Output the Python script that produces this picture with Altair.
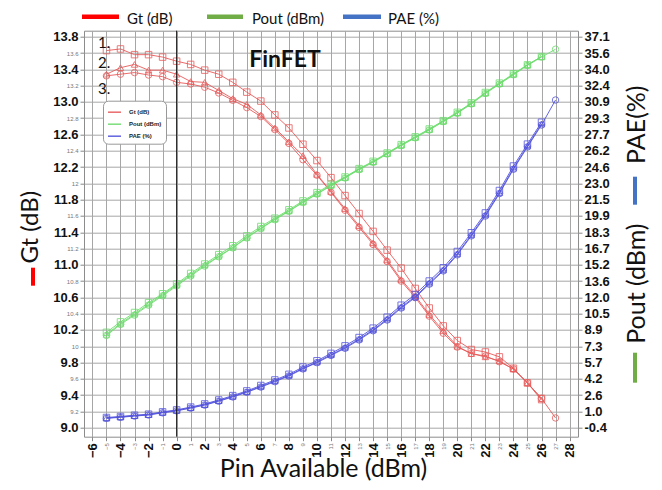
import altair as alt
import pandas as pd

# ---------------- data ----------------
pin = list(range(-5, 28))  # Pin Available (dBm): -5 .. 27

gt_1 = [13.63, 13.65, 13.58, 13.58, 13.55, 13.50, 13.46, 13.39, 13.34, 13.24, 13.12,
        13.01, 12.84, 12.68, 12.48, 12.28, 12.07, 11.85, 11.63, 11.41, 11.18, 10.96,
        10.71, 10.47, 10.25, 10.07, 9.96, 9.93, 9.87, 9.73, 9.55, 9.36]
gt_2 = [13.34, 13.42, 13.46, 13.39, 13.39, 13.34, 13.25, 13.24, 13.14, 13.04, 12.97,
        12.84, 12.68, 12.51, 12.34, 12.11, 11.90, 11.69, 11.48, 11.27, 11.06, 10.82,
        10.62, 10.39, 10.19, 10.00, 9.91, 9.87, 9.82, 9.72, 9.55, 9.34]
gt_3 = [13.32, 13.34, 13.36, 13.33, 13.31, 13.24, 13.22, 13.18, 13.11, 13.02, 12.93,
        12.82, 12.66, 12.49, 12.29, 12.10, 11.89, 11.67, 11.46, 11.25, 11.04, 10.80,
        10.60, 10.37, 10.16, 9.99, 9.91, 9.88, 9.81, 9.72, 9.55, 9.36, 9.12]

pout_1 = [8.75, 9.75, 10.65, 11.6, 12.45, 13.4, 14.4, 15.3, 16.2, 17.05, 18.0, 18.9,
          19.7, 20.5, 21.35, 22.15, 22.95, 23.65, 24.45, 25.15, 25.95, 26.75, 27.5,
          28.25, 29.05, 29.85, 30.75, 31.75, 32.65, 33.55, 34.4, 35.2]
pout_2 = [8.55, 9.6, 10.5, 11.45, 12.35, 13.3, 14.25, 15.2, 16.05, 16.9, 17.85, 18.75,
          19.6, 20.4, 21.25, 22.05, 22.85, 23.6, 24.4, 25.1, 25.9, 26.7, 27.45, 28.2,
          29.0, 29.8, 30.7, 31.7, 32.6, 33.5, 34.4, 35.2]
pout_3 = [8.45, 9.5, 10.4, 11.35, 12.25, 13.2, 14.15, 15.1, 16.0, 16.85, 17.8, 18.7,
          19.55, 20.35, 21.2, 22.0, 22.8, 23.55, 24.35, 25.05, 25.85, 26.65, 27.4,
          28.15, 28.95, 29.75, 30.65, 31.65, 32.55, 33.45, 34.35, 35.15, 35.9]

pae_1 = [0.58, 0.68, 0.8, 0.9, 1.12, 1.31, 1.58, 1.88, 2.26, 2.68, 3.13, 3.65, 4.18,
         4.72, 5.42, 6.02, 6.73, 7.45, 8.25, 9.15, 10.2, 11.35, 12.38, 13.67, 14.94,
         16.5, 18.3, 20.2, 22.35, 24.7, 26.8, 28.9]
pae_2 = [0.53, 0.63, 0.75, 0.85, 1.07, 1.26, 1.52, 1.81, 2.19, 2.60, 3.05, 3.56, 4.08,
         4.62, 5.30, 5.90, 6.60, 7.30, 8.10, 8.99, 10.02, 11.17, 12.18, 13.47, 14.74,
         16.28, 18.1, 20.01, 22.15, 24.49, 26.63, 28.73]
pae_3 = [0.5, 0.6, 0.72, 0.82, 1.03, 1.22, 1.48, 1.77, 2.14, 2.55, 3.0, 3.5, 4.02, 4.56,
         5.24, 5.84, 6.53, 7.22, 8.02, 8.9, 9.93, 11.08, 12.08, 13.37, 14.64, 16.18,
         18.0, 19.9, 22.05, 24.39, 26.53, 28.63, 31.03]

metrics = ["Gt (dB)", "Pout (dBm)", "PAE (%)"]
metric_colors = ["#ff0000", "#70ad47", "#4472c4"]
variants = ["1", "2", "3"]
series_labels = ["1.", "2.", "3."]

x_ticks = list(range(-6, 29))
left_ticks = [9.0, 9.2, 9.4, 9.6, 9.8, 10.0, 10.2, 10.4, 10.6, 10.8, 11.0, 11.2, 11.4,
              11.6, 11.8, 12.0, 12.2, 12.4, 12.6, 12.8, 13.0, 13.2, 13.4, 13.6, 13.8]
right_tick_labels = ["-0.4", "1.0", "2.6", "4.2", "5.7", "7.3", "8.9", "10.5", "12.0",
                     "13.6", "15.2", "16.7", "18.3", "19.9", "21.5", "23.0", "24.6",
                     "26.2", "27.7", "29.3", "30.9", "32.4", "34.0", "35.6", "37.1"]
right_ticks = [-0.4 + 1.5625 * i for i in range(len(right_tick_labels))]

rows = []
for metric, variant, vals in [
    (metrics[0], "1", gt_1), (metrics[0], "2", gt_2), (metrics[0], "3", gt_3),
    (metrics[1], "1", pout_1), (metrics[1], "2", pout_2), (metrics[1], "3", pout_3),
    (metrics[2], "1", pae_1), (metrics[2], "2", pae_2), (metrics[2], "3", pae_3),
]:
    for p, v in zip(pin, vals):
        rows.append({"pin": p, "value": v, "metric": metric, "variant": variant})
df = pd.DataFrame(rows)
df_left = df[df.metric == metrics[0]]
df_right = df[df.metric != metrics[0]]

# ---------------- scales / layout ----------------
x_dom = [-6.6, 28.6]
yl_dom = [8.89, 13.874]
yr_dom = [-0.4 + (v - 9.0) * 7.8125 for v in yl_dom]

W, H = 494, 406
LBL = "Liberation Sans"
TTL = "Lato"

stroke_scale = alt.Scale(domain=metrics, range=["#e85a5a", "#6ddc6d", "#5252dc"])
inner_legend = alt.Legend(
    title=None, orient="none", direction="vertical", legendX=19, legendY=70,
    symbolType="stroke", symbolSize=169, symbolStrokeWidth=1.5, labelFontSize=6,
    labelFontWeight="bold", labelFont=LBL, labelColor="#222", rowPadding=1, padding=4,
    labelOffset=7, fillColor="white", strokeColor="#999", cornerRadius=5,
)
shape_enc = alt.Shape("variant:N", scale=alt.Scale(domain=variants,
                      range=["square", "triangle-up", "circle"]), legend=None)

x_axis = alt.Axis(
    values=x_ticks, labelAngle=-90, labelFont=LBL,
    labelFontSize={"condition": {"test": "datum.value % 2 === 0", "value": 13}, "value": 6},
    labelFontWeight={"condition": {"test": "datum.value % 2 === 0", "value": "bold"}, "value": "normal"},
    labelColor={"condition": {"test": "datum.value % 2 === 0", "value": "#111"}, "value": "#777"},
    labelOverlap=False, labelFlush=False, labelBound=False, labelPadding=2,
    tickSize=4, grid=True,
    title="Pin Available (dBm)", titleFont=TTL, titleFontSize=25, titleFontWeight="normal",
    titleColor="#111", titleX=239, titleY=32, titleAlign="center", titleBaseline="middle",
)
x_enc = alt.X("pin:Q", scale=alt.Scale(domain=x_dom, nice=False, zero=False), axis=x_axis)

even_left = "round((datum.value - 9) * 5) % 2 === 0"
yl_enc = alt.Y(
    "value:Q", scale=alt.Scale(domain=yl_dom, nice=False, zero=False),
    axis=alt.Axis(
        orient="left", values=left_ticks, labelFont=LBL,
        labelExpr=f"{even_left} ? format(datum.value, '.1f') : format(datum.value, '.1~f')",
        labelFontSize={"condition": {"test": even_left, "value": 13}, "value": 6},
        labelFontWeight={"condition": {"test": even_left, "value": "bold"}, "value": "normal"},
        labelColor={"condition": {"test": even_left, "value": "#111"}, "value": "#777"},
        labelOverlap=False, labelFlush=False, labelBound=False, tickSize=4, labelPadding=2,
        grid=True,
        title="Gt (dB)", titleFont=TTL, titleFontSize=24, titleFontWeight="normal",
        titleColor="#111", titleAngle=270, titleX=-54, titleY=196, titleAlign="center",
        titleBaseline="middle",
    ),
)

right_expr = "[" + ",".join(f"'{s}'" for s in right_tick_labels) + "][round((datum.value + 0.4) / 1.5625)]"
yr_enc = alt.Y(
    "value:Q", scale=alt.Scale(domain=yr_dom, nice=False, zero=False),
    axis=alt.Axis(
        orient="right", values=right_ticks, labelExpr=right_expr, labelFont=LBL,
        labelFontSize=13, labelFontWeight="bold", labelColor="#111",
        labelOverlap=False, labelFlush=False, labelBound=False, tickSize=4, labelPadding=2,
        grid=False, title=None,
    ),
)

stroke_enc = alt.Stroke("metric:N", scale=stroke_scale, legend=inner_legend)

left_layer = alt.layer(
    alt.Chart(df_left).mark_line(strokeWidth=1, opacity=0.9).encode(
        x=x_enc, y=yl_enc, stroke=stroke_enc, detail="variant:N"),
    alt.Chart(df_left).mark_point(filled=False, size=42, strokeWidth=1, opacity=0.8).encode(
        x=x_enc, y=yl_enc, stroke=stroke_enc, shape=shape_enc),
)
right_layer = alt.layer(
    alt.Chart(df_right).mark_line(strokeWidth=1, opacity=0.9).encode(
        x=x_enc, y=yr_enc, stroke=stroke_enc, detail="variant:N"),
    alt.Chart(df_right).mark_point(filled=False, size=42, strokeWidth=1, opacity=0.8).encode(
        x=x_enc, y=yr_enc, stroke=stroke_enc, shape=shape_enc),
)

zero_rule = alt.Chart(pd.DataFrame({"pin": [0]})).mark_rule(color="#111", strokeWidth=1).encode(
    x=x_enc)

# ---------- top legend (drawn as decoration) ----------
legend_layout = pd.DataFrame({
    "name": metrics, "color": metric_colors,
    "x1": [-2, 123, 259], "x2": [35, 159, 297], "tx": [43, 168, 304],
})
top_bars = alt.Chart(legend_layout).mark_rule(strokeWidth=4.5).encode(
    x=alt.X("x1:Q", scale=None), x2="x2:Q", y=alt.value(-14),
    color=alt.Color("color:N", scale=None))
top_text = alt.Chart(legend_layout).mark_text(
    font=TTL, fontSize=15, color="#111", align="left", baseline="alphabetic").encode(
    x=alt.X("tx:Q", scale=None), y=alt.value(-6.5), text="name:N")

finfet = alt.Chart(pd.DataFrame({"t": ["FinFET"]})).mark_text(
    font=TTL, fontSize=23, fontWeight="bold", color="#111").encode(
    text="t:N", x=alt.value(201), y=alt.value(29))

num_df = pd.DataFrame({"t": series_labels, "yy": [12, 32.5, 58.5]})
nums = alt.Chart(num_df).mark_text(font=TTL, fontSize=15, color="#111", align="left").encode(
    text="t:N", x=alt.value(14), y=alt.Y("yy:Q", scale=None))

right_titles = alt.Chart(pd.DataFrame({"t": ["PAE(%)", "Pout (dBm)"], "yy": [94, 253]})).mark_text(
    font=TTL, fontSize=25, color="#111", angle=270).encode(
    text="t:N", x=alt.value(553), y=alt.Y("yy:Q", scale=None))

dash_df = pd.DataFrame({"c": ["#4472c4", "#70ad47"], "y1": [146, 322], "y2": [174, 352]})
dashes = alt.Chart(dash_df).mark_rule(strokeWidth=4).encode(
    x=alt.value(551), y=alt.Y("y1:Q", scale=None), y2="y2:Q",
    color=alt.Color("c:N", scale=None))
red_dash = alt.Chart(pd.DataFrame({"y1": [237], "y2": [255]})).mark_rule(
    strokeWidth=4, color="#ff0000").encode(
    x=alt.value(-51), y=alt.Y("y1:Q", scale=None), y2="y2:Q")

chart = alt.layer(
    left_layer, right_layer, zero_rule, top_bars, top_text, finfet, nums,
    right_titles, dashes, red_dash
).resolve_scale(y="independent").properties(
    width=W, height=H,
    padding={"left": 76, "top": 22.7, "right": 76, "bottom": 45},
    autosize=alt.AutoSizeParams(type="none"),
).configure_view(stroke="#8c8c8c", strokeWidth=1).configure_axis(
    domain=False, gridColor="#a6a6a6", gridWidth=1, tickColor="#888",
)

chart.save("out.html", embed_options={"renderer": "svg", "actions": False})
